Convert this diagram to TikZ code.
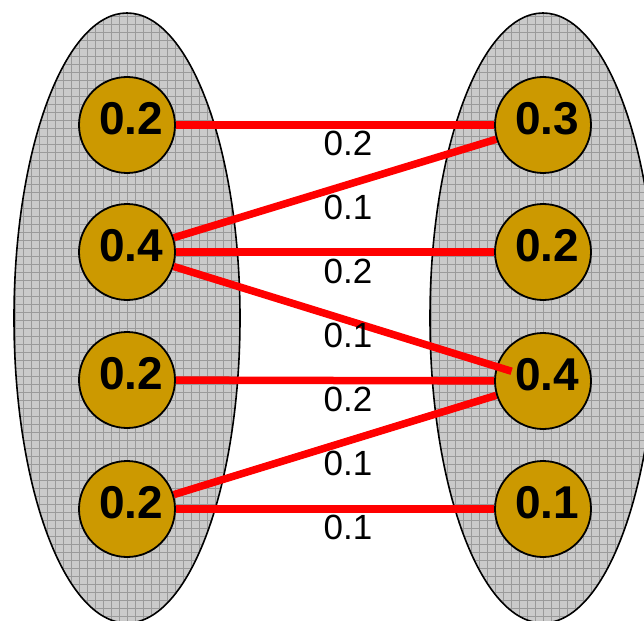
\documentclass[tikz,border=0pt]{standalone}
\usepackage{fontspec}
\setmainfont{Liberation Sans}
\usetikzlibrary{backgrounds}
\definecolor{gold}{HTML}{CC9900}
\definecolor{blobfill}{HTML}{CACACA}
\definecolor{blobgrid}{HTML}{9A9A9A}
\definecolor{linkred}{HTML}{FF0000}
\tikzset{
  blob/.style={draw=black, line width=1.6pt},
  value/.style={circle, draw=black, line width=1.8pt, fill=gold,
    minimum size=96pt, inner sep=0pt, text depth=13pt,
    font=\fontsize{46}{50}\selectfont\bfseries},
  link/.style={draw=linkred, line width=7.5pt},
  weight/.style={font=\fontsize{35}{40}\selectfont, inner sep=0pt}
}
\newcommand{\val}[1]{\hspace*{8pt}#1}
\begin{document}
\begin{tikzpicture}[x=1pt, y=-1pt]
  \clip (0,0) rectangle (644,620);

  % left elements
  \node[value] (l1) at (127,125) {\val{0.2}};
  \node[value] (l2) at (127,252) {\val{0.4}};
  \node[value] (l3) at (127,380) {\val{0.2}};
  \node[value] (l4) at (127,509) {\val{0.2}};
  % right elements
  \node[value] (r1) at (543,125) {\val{0.3}};
  \node[value] (r2) at (543,252) {\val{0.2}};
  \node[value] (r3) at (543,381) {\val{0.4}};
  \node[value] (r4) at (543,509) {\val{0.1}};

  \begin{scope}[on background layer]
    \fill[white] (0,0) rectangle (644,620);
    % the two sets
    \foreach \cx in {127,543} {
      \begin{scope}
        \clip (\cx,318) ellipse [x radius=113, y radius=305];
        \fill[blobfill] (\cx-120,0) rectangle (\cx+120,630);
        \foreach \gx in {-120,-112,...,120}
          \draw[blobgrid, line width=0.7pt] (\cx+\gx,0) -- (\cx+\gx,630);
        \foreach \gy in {0,8,...,630}
          \draw[blobgrid, line width=0.7pt] (\cx-120,\gy) -- (\cx+120,\gy);
      \end{scope}
      \draw[blob] (\cx,318) ellipse [x radius=113, y radius=305];
    }
    % transitions
    \draw[link] (l1) -- (r1);
    \draw[link] (l2) -- (r1);
    \draw[link] (l2) -- (r2);
    \draw[link] (l3) -- (r3);
    \draw[link] (l4) -- (r3);
    \draw[link] (l4) -- (r4);
  \end{scope}
  \draw[link, shorten >=-16pt] (l2) -- (r3);

  % weights
  \node[weight] (w1) at (348,143) {0.2};
  \node[weight] (w2) at (348,207) {0.1};
  \node[weight] (w3) at (348,271) {0.2};
  \node[weight] (w4) at (348,335) {0.1};
  \node[weight] (w5) at (348,399) {0.2};
  \node[weight] (w6) at (348,463) {0.1};
  \node[weight] (w7) at (348,527) {0.1};
\end{tikzpicture}
\end{document}
